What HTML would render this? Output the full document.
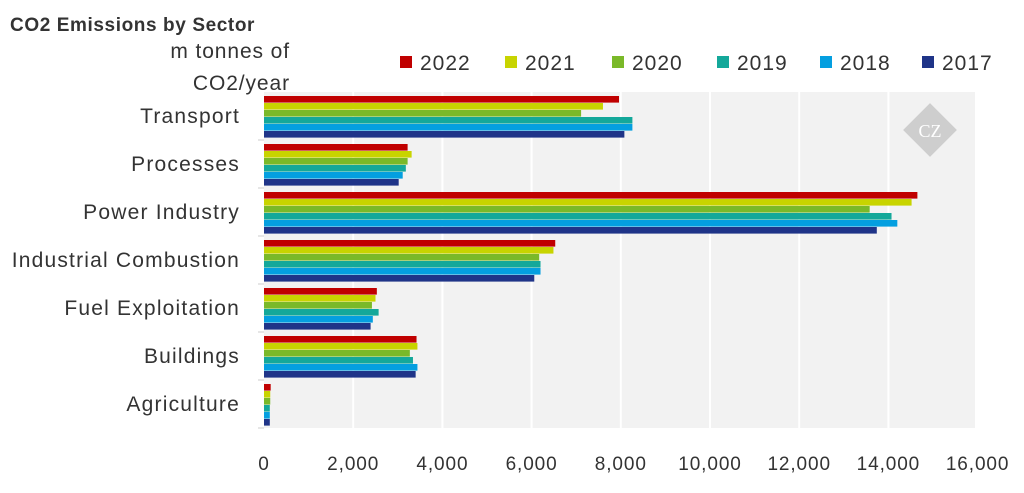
<!DOCTYPE html>
<html><head><meta charset="utf-8"><style>
body{margin:0;background:#fff;width:1024px;height:488px;overflow:hidden;font-family:"Liberation Sans",sans-serif}
</style></head><body>
<svg id="c" width="1024" height="488" xmlns="http://www.w3.org/2000/svg">
<text x="10" y="31" font-size="19" font-weight="bold" fill="#333" letter-spacing="0.6">CO2 Emissions by Sector</text>
<text x="290" y="58" font-size="21" fill="#333" letter-spacing="0.9" text-anchor="end">m tonnes of</text>
<text x="290" y="90" font-size="21" fill="#333" letter-spacing="0.9" text-anchor="end">CO2/year</text>
<rect x="264" y="92" width="711" height="336" fill="#f2f2f2"/>
<g id="grid"></g><g id="bars"></g><g id="cats"></g><g id="ticks"></g><g id="legend"></g>
<g transform="translate(930,130) rotate(45)"><rect x="-19" y="-19" width="38" height="38" fill="#c4c4c4" opacity="0.8"/></g>
<text x="930" y="137" font-size="18" fill="#fff" text-anchor="middle" font-family="Liberation Serif,serif">CZ</text>
</svg>
<script>
const categories=["Transport","Processes","Power Industry","Industrial Combustion","Fuel Exploitation","Buildings","Agriculture"];
const years=["2022","2021","2020","2019","2018","2017"];
const colors=["#c00000","#c8d400","#7ab929","#14a89a","#049fe0","#1f3488"];
const v2022=[7960,3220,14650,6530,2530,3420,150];
const v2021=[7600,3310,14520,6490,2500,3440,140];
const v2020=[7110,3220,13580,6170,2420,3270,140];
const v2019=[8260,3180,14070,6200,2570,3340,130];
const v2018=[8260,3110,14200,6200,2440,3440,130];
const v2017=[8080,3020,13740,6060,2390,3400,130];
const ticks=[0,2000,4000,6000,8000,10000,12000,14000,16000];
const series=[v2022,v2021,v2020,v2019,v2018,v2017];
const NS="http://www.w3.org/2000/svg";
const x0=264,pxPer=44.6/1000,y0=92,band=48;
const xs=v=>x0+v*pxPer;
function mk(t,a,p){const e=document.createElementNS(NS,t);for(const k in a)e.setAttribute(k,a[k]);document.getElementById(p).appendChild(e);return e;}
ticks.forEach((t,i)=>{
 if(i>0){const g=mk('line',{x1:xs(t),x2:xs(t),y1:y0,y2:y0+band*7,stroke:'#fff','stroke-width':2},'grid');
 
 }
 const l=mk('text',{x:xs(t),y:470,'font-size':19,'letter-spacing':0.9,fill:'#333','text-anchor':'middle'},'ticks');
 l.textContent=t.toLocaleString('en-US');
 
 
});
categories.forEach((c,i)=>{
 const tk=mk('line',{x1:258,x2:264,y1:y0+band*(i+1),y2:y0+band*(i+1),stroke:'#ccc'},'cats');
 
 
 const t=mk('text',{x:240,y:y0+band*i+band/2+7,'font-size':21,'letter-spacing':1.2,fill:'#333','text-anchor':'end'},'cats');
 t.textContent=c;
 
 
 series.forEach((s,j)=>{
  const r=mk('rect',{x:x0,y:y0+band*i+4+j*7,width:xs(s[i])-x0,height:6.6,fill:colors[j]},'bars');
  
  
 });
});
const lx=[400,505,612,717,820,922];
years.forEach((y,j)=>{
 const r=mk('rect',{x:lx[j],y:56,width:12,height:12,fill:colors[j]},'legend');
 
 
 const t=mk('text',{x:lx[j]+20,y:70,'font-size':21,'letter-spacing':1,fill:'#333'},'legend');
 t.textContent=y;
 
 
});
</script>
</body></html>
